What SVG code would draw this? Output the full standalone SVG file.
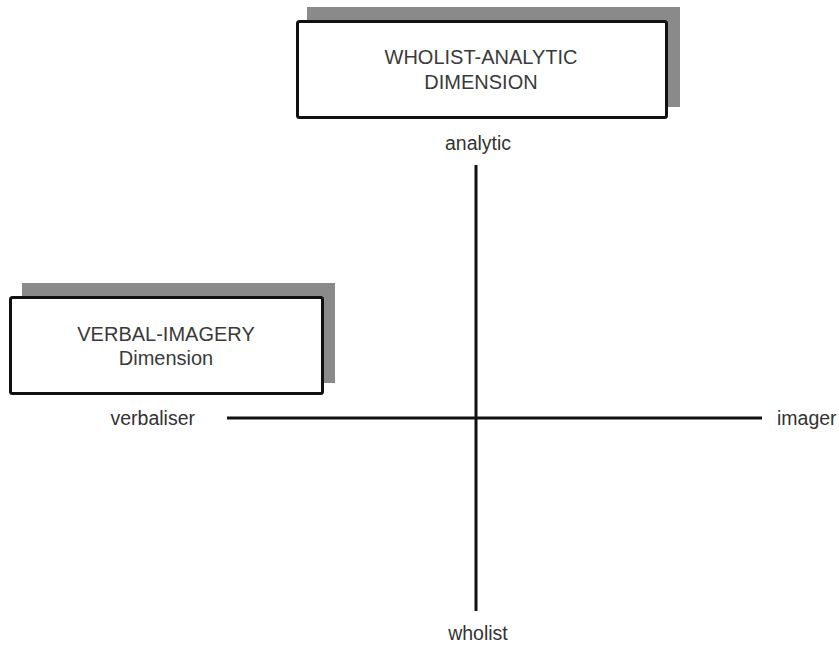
<svg xmlns="http://www.w3.org/2000/svg" width="839" height="646" viewBox="0 0 839 646">
  <style>
    .shadow { fill: #8a8a8a; }
    .box { fill: #ffffff; stroke: #111111; stroke-width: 3; }
    .title { font-family: "Liberation Sans", Arial, sans-serif; font-size: 20px; fill: #3a3a3a; text-anchor: middle; }
    .label { font-family: "Liberation Sans", Arial, sans-serif; font-size: 19.5px; fill: #333333; }
    .axis { stroke: #111111; stroke-width: 3; fill: none; }
  </style>
  <rect width="839" height="646" fill="#ffffff"/>

  <g id="wholist-analytic">
    <rect class="shadow" x="307" y="7" width="373" height="100"/>
    <rect class="box" x="297.5" y="21.5" width="369" height="96" rx="2"/>
    <text class="title" x="481" y="64">WHOLIST-ANALYTIC</text>
    <text class="title" x="481" y="89">DIMENSION</text>
  </g>

  <g id="verbal-imagery">
    <rect class="shadow" x="22" y="283" width="313" height="100"/>
    <rect class="box" x="10.5" y="297.5" width="312" height="96" rx="2"/>
    <text class="title" x="166" y="341">VERBAL-IMAGERY</text>
    <text class="title" x="166" y="365">Dimension</text>
  </g>

  <g id="axes">
    <line class="axis" x1="476" y1="165" x2="476" y2="611"/>
    <line class="axis" x1="227" y1="418" x2="762" y2="418"/>
  </g>

  <g id="labels">
    <text class="label" x="478" y="150" text-anchor="middle">analytic</text>
    <text class="label" x="478" y="640" text-anchor="middle">wholist</text>
    <text class="label" x="195" y="425" text-anchor="end">verbaliser</text>
    <text class="label" x="777" y="425">imager</text>
  </g>
</svg>
